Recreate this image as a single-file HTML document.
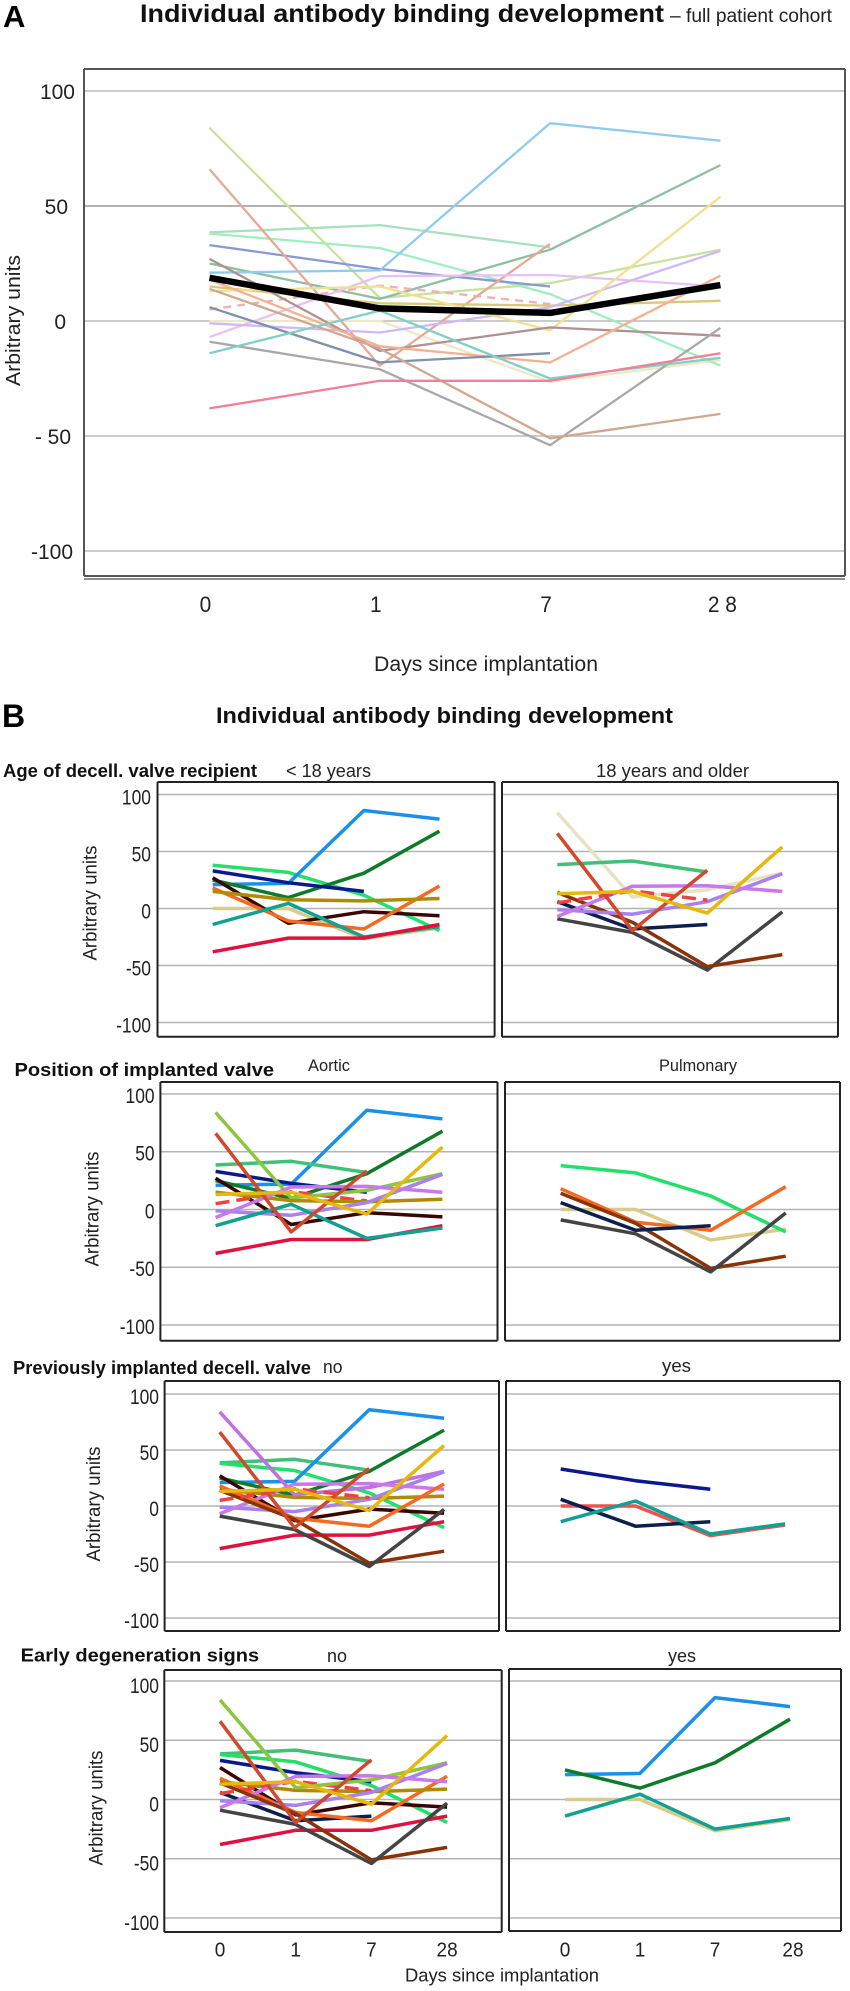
<!DOCTYPE html>
<html lang="en">
<head>
<meta charset="utf-8">
<title>Individual antibody binding development</title>
<style>
html,body{margin:0;padding:0;background:#fff;}
svg{display:block;font-family:"Liberation Sans",sans-serif;filter:blur(0.35px);}
</style>
</head>
<body>
<svg id="figure" xmlns="http://www.w3.org/2000/svg" width="850" height="1991" viewBox="0 0 850 1991">
  <rect x="0" y="0" width="850" height="1991" fill="#fff"/>

  <text x="3" y="27" font-size="31" font-weight="bold" fill="#000">A</text>
  <text x="140" y="22" font-size="25" font-weight="bold" fill="#111" textLength="524" lengthAdjust="spacingAndGlyphs">Individual antibody binding development</text>
  <text x="670" y="22" font-size="19" fill="#222" textLength="162" lengthAdjust="spacingAndGlyphs">– full patient cohort</text>
  <text transform="translate(20,320.5) rotate(-90)" text-anchor="middle" font-size="20" fill="#222" textLength="131" lengthAdjust="spacingAndGlyphs">Arbitrary units</text>
  <text x="374" y="671" font-size="21" fill="#222" textLength="224" lengthAdjust="spacingAndGlyphs">Days since implantation</text>

  <text x="2" y="727" font-size="32" font-weight="bold" fill="#000">B</text>
  <text x="216" y="723" font-size="22" font-weight="bold" fill="#111" textLength="457" lengthAdjust="spacingAndGlyphs">Individual antibody binding development</text>

  <text x="3" y="777" font-size="18.5" font-weight="bold" fill="#111" textLength="254" lengthAdjust="spacingAndGlyphs">Age of decell. valve recipient</text>
  <text x="286" y="777" font-size="18" fill="#222" textLength="85" lengthAdjust="spacingAndGlyphs">&lt; 18 years</text>
  <text x="596" y="777" font-size="18" fill="#222" textLength="153" lengthAdjust="spacingAndGlyphs">18 years and older</text>
  <text transform="translate(96.6,903) rotate(-90)" text-anchor="middle" font-size="19.5" fill="#222" textLength="115" lengthAdjust="spacingAndGlyphs">Arbitrary units</text>

  <text x="14.5" y="1076" font-size="18.5" font-weight="bold" fill="#111" textLength="259.5" lengthAdjust="spacingAndGlyphs">Position of implanted valve</text>
  <text x="308" y="1071" font-size="17" fill="#222" textLength="42" lengthAdjust="spacingAndGlyphs">Aortic</text>
  <text x="659" y="1071" font-size="17" fill="#222" textLength="78" lengthAdjust="spacingAndGlyphs">Pulmonary</text>
  <text transform="translate(98.7,1209) rotate(-90)" text-anchor="middle" font-size="19.5" fill="#222" textLength="115" lengthAdjust="spacingAndGlyphs">Arbitrary units</text>

  <text x="13" y="1374" font-size="18" font-weight="bold" fill="#111" textLength="298" lengthAdjust="spacingAndGlyphs">Previously implanted decell. valve</text>
  <text x="323" y="1373" font-size="18" fill="#222" textLength="19.5" lengthAdjust="spacingAndGlyphs">no</text>
  <text x="662" y="1372" font-size="18" fill="#222" textLength="29" lengthAdjust="spacingAndGlyphs">yes</text>
  <text transform="translate(100,1504) rotate(-90)" text-anchor="middle" font-size="19.5" fill="#222" textLength="115" lengthAdjust="spacingAndGlyphs">Arbitrary units</text>

  <text x="20.7" y="1661.7" font-size="18.5" font-weight="bold" fill="#111" textLength="238.5" lengthAdjust="spacingAndGlyphs">Early degeneration signs</text>
  <text x="327" y="1662" font-size="18" fill="#222" textLength="20" lengthAdjust="spacingAndGlyphs">no</text>
  <text x="668" y="1662" font-size="18" fill="#222" textLength="28" lengthAdjust="spacingAndGlyphs">yes</text>
  <text transform="translate(102.7,1808) rotate(-90)" text-anchor="middle" font-size="19.5" fill="#222" textLength="115" lengthAdjust="spacingAndGlyphs">Arbitrary units</text>
  <text x="405" y="1981.7" font-size="18" fill="#222" textLength="194" lengthAdjust="spacingAndGlyphs">Days since implantation</text>
</svg>

<script>
// ---- chart data ----
const days = ['0', '1', '7', '28'];
const daysPanelA = ['0', '1', '7', '2 8'];
const yTicks = [100, 50, 0, -50, -100];
const yTickLabelsA = ['100', '50', '0', '- 50', '-100'];
const yTickLabelsB = ['100', '50', '0', '-50', '-100'];

const blue = [21, 22, 86, 78.4];
const darkGreen = [25, 9.6, 31, 67.8];
const brightGreen = [38, 31.7, 11.7, -19.4];
const navy = [33, 22.6, 15, null];
const maroon = [27, -13, -2.8, -6.4];
const orange = [18, -11, -18, 19.7];
const darkGold = [15, 7.7, 6.7, 8.8];
const khaki = [0, 0, -26.4, -17];
const teal = [-14, 4.5, -25, -16];
const crimson = [-38, -26, -26, -14];
const olive = [84, 10, 16.5, 31];
const green = [38.5, 41.7, 32, null];
const redOrange = [66, -19.4, 33.5, null];
const gold = [13, 15, -4, 54];
const dashedRed = [5, 15.4, 7.4, null];
const pink = [-7, 19.5, 20, 15];
const lilac = [-1, -5, 6, 30.5];
const darkBlue = [6, -18, -14, null];
const gray = [-9, -21, -54, -3];
const brown = [14, -12, -51, -40.4];
const cohortMean = [18.8, 5.5, 3.5, 15.6];

const allSeries = { blue, darkGreen, brightGreen, navy, maroon, orange, darkGold, khaki, teal, crimson, olive, green, redOrange, gold, dashedRed, pink, lilac, darkBlue, gray, brown, cohortMean };

// which patients appear in which panel
const cohortAll = ['khaki', 'olive', 'green', 'brightGreen', 'navy', 'darkGreen', 'blue', 'redOrange', 'dashedRed', 'darkGold', 'pink', 'lilac', 'gold', 'maroon', 'orange', 'darkBlue', 'gray', 'brown', 'teal', 'crimson'];
const ageUnder18 = ['khaki', 'brightGreen', 'blue', 'darkGreen', 'navy', 'maroon', 'orange', 'darkGold', 'teal', 'crimson'];
const age18Plus = ['olive', 'gray', 'darkBlue', 'brown', 'green', 'lilac', 'pink', 'dashedRed', 'redOrange', 'gold'];
const aortic = ['blue', 'darkGreen', 'green', 'navy', 'maroon', 'dashedRed', 'olive', 'darkGold', 'lilac', 'pink', 'crimson', 'teal', 'redOrange', 'gold'];
const pulmonary = ['khaki', 'brightGreen', 'orange', 'brown', 'darkBlue', 'gray'];
const noPreviousValve = ['green', 'brightGreen', 'blue', 'darkGreen', 'maroon', 'darkGold', 'olive', 'lilac', 'pink', 'orange', 'crimson', 'brown', 'gray', 'redOrange', 'dashedRed', 'gold'];
const yesPreviousValve = ['navy', 'khaki', 'darkBlue', 'teal'];
const noDegeneration = ['green', 'brightGreen', 'navy', 'maroon', 'darkBlue', 'crimson', 'orange', 'darkGold', 'dashedRed', 'olive', 'lilac', 'pink', 'brown', 'gray', 'redOrange', 'gold'];
const yesDegeneration = ['blue', 'khaki', 'darkGreen', 'teal'];

// ---- styling ----
const boldColors = { blue: '#1a90e8', darkGreen: '#0f7a2a', brightGreen: '#22e06a', navy: '#0a1a8c', maroon: '#3a0505', orange: '#f56a20', darkGold: '#b08a08', khaki: '#d8cc88', teal: '#12a090', crimson: '#e0103f', olive: '#8cc63f', green: '#40c078', redOrange: '#d0492a', gold: '#e6b80c', dashedRed: '#f04040', pink: '#c878e8', lilac: '#a880f0', darkBlue: '#0c1f4f', gray: '#444444', brown: '#8a3208' };
const paleColors = { blue: '#8ecbee', darkGreen: '#8fbf9f', brightGreen: '#a0eec0', navy: '#8a9ad0', maroon: '#b09090', orange: '#f5b090', darkGold: '#d8c878', khaki: '#ece8c8', teal: '#80d0c8', crimson: '#f08098', olive: '#c8e0a0', green: '#a8e0c0', redOrange: '#e8a898', gold: '#f0e090', dashedRed: '#f0b0b0', pink: '#e8c0f8', lilac: '#d0b8f8', darkBlue: '#8090a8', gray: '#a8a8a8', brown: '#d0a890', cohortMean: '#000000' };

const svg = document.getElementById('figure');
const NS = 'http://www.w3.org/2000/svg';

function make(tag, parent) {
  const el = document.createElementNS(NS, tag);
  parent.appendChild(el);
  return el;
}

function setAll(el, props) {
  Object.keys(props).forEach(function (k) { el.setAttribute(k, props[k]); });
}

function linePath(values, xScale, yScale) {
  let d = '';
  let pen = 'M';
  values.forEach(function (v, i) {
    if (v === null) { pen = 'M'; return; }
    d += pen + xScale(i).toFixed(1) + ' ' + yScale(v).toFixed(1) + ' ';
    pen = 'L';
  });
  return d;
}

function drawFrameLine(g, x1, y1, x2, y2, color, width) {
  const ln = make('line', g);
  
  
  setAll(ln, { x1: x1, y1: y1, x2: x2, y2: y2, stroke: color, 'stroke-width': width });
}

function drawPanel(cfg) {
  const g = make('g', svg);
  
  
  const xScale = function (i) { return cfg.x0 + cfg.dx * i; };
  const yScale = function (v) { return cfg.zero - v * cfg.unit; };

  yTicks.forEach(function (t) {
    const grid = make('line', g);
    
    
    const strong = cfg.strongGrid === t;
    setAll(grid, { x1: cfg.left, x2: cfg.right, y1: yScale(t), y2: yScale(t), stroke: strong ? '#9a9a9a' : cfg.gridColor, 'stroke-width': cfg.gridWidth });
  });

  (cfg.members).forEach(function (key) {
    const p = make('path', g);
    
    
    const color = (cfg.overrides && cfg.overrides[key]) || cfg.palette[key];
    setAll(p, { d: linePath(allSeries[key], xScale, yScale), fill: 'none', stroke: color, 'stroke-width': key === 'cohortMean' ? 6.5 : cfg.lineWidth, 'stroke-linejoin': 'round', 'stroke-linecap': 'butt' });
    if (key === 'dashedRed') { p.setAttribute('stroke-dasharray', cfg.dash); }
  });

  drawFrameLine(g, cfg.left, cfg.top, cfg.right, cfg.top, cfg.frameColor, cfg.frameWidth);
  drawFrameLine(g, cfg.left, cfg.bottom, cfg.right, cfg.bottom, cfg.frameColor, cfg.frameWidth);
  drawFrameLine(g, cfg.left, cfg.top, cfg.left, cfg.bottom, cfg.frameColor, cfg.frameWidth);
  drawFrameLine(g, cfg.right, cfg.top, cfg.right, cfg.bottom, cfg.frameColor, cfg.frameWidth);
  return { g: g, xScale: xScale, yScale: yScale };
}

function drawYLabels(panel, labels, rightEdge, dy, size, squeeze, nudge) {
  labels.forEach(function (txt, i) {
    const t = make('text', panel.g);
    
    
    setAll(t, { x: rightEdge + (nudge ? nudge(i) : 0), y: panel.yScale(yTicks[i]) + dy, 'text-anchor': 'end', 'font-size': size, fill: '#222' });
    if (squeeze !== 1) {
      const bare = rightEdge + (nudge ? nudge(i) : 0);
      t.setAttribute('transform', 'translate(' + bare + ',0) scale(' + squeeze + ',1) translate(' + (-bare) + ',0)');
    }
    t.textContent = txt;
  });
}

function drawXLabels(panel, labels, baseline, size, squeeze, nudge) {
  labels.forEach(function (txt, i) {
    const t = make('text', panel.g);
    
    
    const cx = panel.xScale(i) + (nudge ? nudge(i) : 0);
    setAll(t, { x: cx, y: baseline, 'text-anchor': 'middle', 'font-size': size, fill: '#222' });
    if (squeeze !== 1) {
      t.setAttribute('transform', 'translate(' + cx + ',0) scale(' + squeeze + ',1) translate(' + (-cx) + ',0)');
    }
    t.textContent = txt;
  });
}

// ---- panel A ----
const panelA = drawPanel({
  name: 'full-cohort-plot', left: 84, right: 845, top: 69, bottom: 576,
  zero: 321, unit: 2.3, x0: 209.5, dx: 170.3,
  members: cohortAll.concat(['cohortMean']), palette: paleColors,
  lineWidth: 2.3, dash: '8 6', gridColor: '#bcbcbc', gridWidth: 1.4, strongGrid: 50, frameColor: '#555', frameWidth: 2
});
const aBottomRule = make('line', panelA.g);


setAll(aBottomRule, { x1: 84, x2: 845, y1: 579, y2: 579, stroke: '#666', 'stroke-width': 1.5 });

drawYLabels(panelA, yTickLabelsA, 72, 8, 21, 1, function (i) {
  return [3, -4, -6, -1, 1][i];
});
drawXLabels(panelA, daysPanelA, 612, 22, 0.95, function (i) {
  return i === 3 ? 2 : -4;
});

// ---- panel B, rows ----
function bPanel(name, left, right, top, bottom, zero, unit, x0, dx, members, overrides) {
  return drawPanel({
    name: name, left: left, right: right, top: top, bottom: bottom,
    zero: zero, unit: unit, x0: x0, dx: dx,
    members: members, palette: boldColors, overrides: overrides,
    lineWidth: 3.5, dash: '14 7', gridColor: '#b4b4b4', gridWidth: 1.5, frameColor: '#222', frameWidth: 2
  });
}

const ageLeft = bPanel('age-under-18-plot', 157.5, 494.6, 782, 1036.7, 908.5, 1.14, 212.7, 75.6, ageUnder18);
const ageRight = bPanel('age-18-and-older-plot', 502, 838, 782, 1036.7, 908.5, 1.14, 557.3, 75, age18Plus, { olive: '#e6e2c8' });
drawYLabels(ageLeft, yTickLabelsB, 151, 10, 21, 0.83);

const posLeft = bPanel('aortic-plot', 160.4, 497.5, 1082, 1340.7, 1209.5, 1.155, 215.6, 75.6, aortic);
const posRight = bPanel('pulmonary-plot', 505, 840, 1082, 1340.7, 1209.5, 1.155, 560.7, 75, pulmonary);
drawYLabels(posLeft, yTickLabelsB, 154.6, 9, 21, 0.83);

const prevLeft = bPanel('previous-valve-no-plot', 164.6, 499, 1381, 1631, 1506, 1.12, 219.7, 74.8, noPreviousValve, { olive: '#c070e0' });
const prevRight = bPanel('previous-valve-yes-plot', 506, 840, 1381, 1631, 1506, 1.12, 560.7, 74.8, yesPreviousValve, { khaki: '#f05050' });
drawYLabels(prevLeft, yTickLabelsB, 159, 10, 21, 0.83);

const degLeft = bPanel('degeneration-no-plot', 164.3, 501.7, 1670, 1932, 1799.5, 1.185, 220, 75.7, noDegeneration);
const degRight = bPanel('degeneration-yes-plot', 509, 841, 1669, 1931, 1799.5, 1.185, 565, 75, yesDegeneration);
drawYLabels(degLeft, yTickLabelsB, 159, 12, 21, 0.83);
drawXLabels(degLeft, days, 1956.5, 20, 0.95);
drawXLabels(degRight, days, 1956.5, 20, 0.95, function (i) {
  return i === 3 ? 3 : 0;
});
</script>
</body>
</html>
